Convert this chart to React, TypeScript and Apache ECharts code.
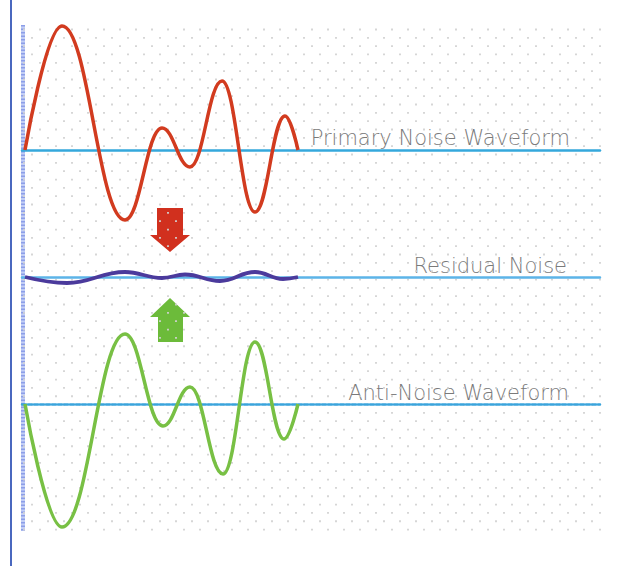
import React, { useEffect, useRef } from "react";
import * as echarts from "echarts";

// time axis (sample positions) and amplitudes (start, extrema, end)
const primaryT = [3, 40, 103, 140, 168, 200, 233, 263, 276];
const primaryNoise = [0, 124, -70, 22, -17, 69, -62, 34, 0];
const antiT = [3, 40, 103, 141, 168, 201, 233, 262, 276];
const antiNoise = [0, -123, 70, -22, 17, -70, 62, -35, 0];
const residualT = [3, 45, 103, 140, 163, 198, 233, 261, 276];
const residualNoise = [0, -6, 5, -1, 2.5, -4, 5, -2, 0];

const labels = ["Primary Noise Waveform", "Residual Noise", "Anti-Noise Waveform"];

const pairs = (xs: number[], ys: number[]) => xs.map((x, i) => [x, ys[i]]);

export default function App() {
  const ref = useRef<HTMLDivElement>(null);
  useEffect(() => {
    if (!ref.current) return;
    const chart = echarts.init(ref.current, undefined, { renderer: "svg" });

    const hiddenAxis = {
      show: true,
      axisLine: { show: false },
      axisTick: { show: false },
      axisLabel: { show: false },
      splitLine: { show: false },
    };
    const dotAxis = (gridIndex: number, max: number) => ({
      type: "value",
      gridIndex,
      min: 0,
      max,
      interval: 1,
      axisLine: { show: false },
      axisTick: { show: false },
      axisLabel: { show: false },
      splitLine: {
        show: true,
        lineStyle: { color: "#d2d2d2", width: 1.8, type: [1.8, 14.87] },
      },
    });
    const waveX = (gridIndex: number, color: string, type: any, width: number) => ({
      type: "value",
      gridIndex,
      min: 0,
      max: 578,
      axisLine: { show: true, onZero: true, lineStyle: { color, width, type } },
      axisTick: { show: false },
      axisLabel: { show: false },
      splitLine: { show: false },
    });
    const waveY = (gridIndex: number) => ({
      type: "value",
      gridIndex,
      min: -130,
      max: 130,
      ...hiddenAxis,
    });
    const textStyle = (text: string) => ({
      text,
      font: '200 21px "DejaVu Sans"',
      fill: "#7a7a7a",
      align: "right",
      verticalAlign: "middle",
      textAlign: "right",
      textVerticalAlign: "middle",
    });
    const wave = (idx: number, xs: number[], ys: number[], color: string, width: number) => ({
      type: "line",
      xAxisIndex: idx,
      yAxisIndex: idx,
      data: pairs(xs, ys),
      smooth: 0.42,
      smoothMonotone: "x",
      symbol: "none",
      lineStyle: { color, width },
      z: 5,
    });

    const option: any = {
      animation: false,
      backgroundColor: "#ffffff",
      grid: [
        { left: 24, width: 576, top: 28.6, height: 502 },
        { left: 32, width: 560, top: 36.9, height: 486 },
        { left: 22, width: 578, top: 20, height: 260 },
        { left: 22, width: 578, top: 147, height: 260 },
        { left: 22, width: 578, top: 274, height: 260 },
      ],
      xAxis: [
        dotAxis(0, 36),
        dotAxis(1, 35),
        waveX(2, "#35a8dc", "solid", 2.5),
        waveX(3, "#5cb4e8", [3, 1], 2.5),
        waveX(4, "#3aa4dc", [4, 2], 2.5),
      ],
      yAxis: [
        { type: "value", gridIndex: 0, min: 0, max: 1, ...hiddenAxis },
        { type: "value", gridIndex: 1, min: 0, max: 1, ...hiddenAxis },
        waveY(2),
        waveY(3),
        waveY(4),
      ],
      series: [
        wave(2, primaryT, primaryNoise, "#d23b1f", 3.5),
        wave(3, residualT, residualNoise, "#4b3a9c", 3.8),
        wave(4, antiT, antiNoise, "#78c044", 3.5),
      ],
      graphic: [
        {
          type: "line",
          shape: { x1: 11, y1: 0, x2: 11, y2: 566 },
          style: { stroke: "#4a68bf", lineWidth: 2 },
        },
        {
          type: "line",
          shape: { x1: 23, y1: 25, x2: 23, y2: 531 },
          style: { stroke: "#c3cff6", lineWidth: 4 },
        },
        {
          type: "line",
          shape: { x1: 23, y1: 25, x2: 23, y2: 531 },
          style: { stroke: "#8c9ee8", lineWidth: 4, lineDash: [1.5, 2] },
        },
        {
          type: "polygon",
          shape: {
            points: [
              [157, 208], [183, 208], [183, 235], [190, 235], [170, 252], [150, 235], [157, 235],
            ],
          },
          style: { fill: "#d1301e" },
        },
        {
          type: "polygon",
          shape: {
            points: [
              [158, 342], [183, 342], [183, 317], [190, 317], [170, 298], [150, 317], [158, 317],
            ],
          },
          style: { fill: "#6cbb3a" },
        },
        { type: "text", x: 570, y: 138, style: textStyle(labels[0]) },
        { type: "text", x: 567, y: 266, style: textStyle(labels[1]) },
        { type: "text", x: 569, y: 393, style: textStyle(labels[2]) },
      ],
    };
    chart.setOption(option);
    return () => chart.dispose();
  }, []);
  return (
    <div
      ref={ref}
      style={{ position: "fixed", left: 0, top: 0, width: 633, height: 566 }}
    />
  );
}
